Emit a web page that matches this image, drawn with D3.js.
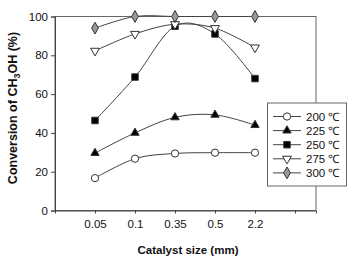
<!DOCTYPE html>
<html>
<head>
<meta charset="utf-8">
<script src="https://cdn.jsdelivr.net/npm/d3@7/dist/d3.min.js"></script>
<style>
  body { margin: 0; background: #fff; }
  text { font-family: "Liberation Sans", Arial, sans-serif; }
</style>
</head>
<body>
<svg id="chart"></svg>
<script>
// --- data ---
const sizes = ["0.05", "0.1", "0.35", "0.5", "2.2"];
const seriesNames = ["200 \u2103", "225 \u2103", "250 \u2103", "275 \u2103", "300 \u2103"];
const conv200 = [16.7, 26.7, 29.4, 29.8, 29.8];
const conv225 = [29.6, 40, 48, 49.3, 44];
const conv250 = [46.4, 68.8, 95, 91, 68];
const conv275 = [82.3, 91, 96, 94, 84];
const conv300 = [94, 100, 100, 100, 100];
const yTicks = [0, 20, 40, 60, 80, 100];

const allSeries = [conv200, conv225, conv250, conv275, conv300];
const markers = [
  {type: d3.symbolCircle, size: 42, fill: "#fff"},
  {type: d3.symbolTriangle, size: 30, fill: "#000"},
  {type: d3.symbolSquare, size: 42, fill: "#000"},
  {type: "down", size: 34, fill: "#fff"},
  {type: d3.symbolDiamond, size: 40, fill: "#999"}
];

const W = 351, H = 260;
const svg = d3.select("#chart").attr("width", W).attr("height", H);

const x = d3.scaleLinear().domain([0, 6.525]).range([55, 316]);
const y = d3.scaleLinear().domain([0, 100]).range([210.5, 16.5]);

// frame
svg.append("rect")
   .attr("x", 55).attr("y", 16.5)
   .attr("width", 261).attr("height", 194)
   .attr("fill", "none").attr("stroke", "#666").attr("stroke-width", 1);

// y axis
const yAxis = d3.axisLeft(y).tickValues(yTicks).tickSize(4).tickPadding(3);
const gy = svg.append("g").attr("transform", "translate(55,0)").call(yAxis);
gy.select(".domain").attr("stroke", "#444");
gy.selectAll(".tick line").attr("stroke", "#444");
gy.selectAll("text").attr("font-size", 11.5).attr("fill", "#111")
  .style("font-family", "Liberation Sans, Arial, sans-serif");

// x axis
const xAxis = d3.axisBottom(x).tickValues([1, 2, 3, 4, 5, 6])
  .tickFormat(d => sizes[d - 1] || "").tickSize(3).tickPadding(6);
const gx = svg.append("g").attr("transform", "translate(0,210.5)").call(xAxis);
gx.select(".domain").attr("stroke", "#444");
gx.selectAll(".tick line").attr("stroke", "#444");
gx.selectAll("text").attr("font-size", 11.5).attr("fill", "#111")
  .style("font-family", "Liberation Sans, Arial, sans-serif");

// axis titles
const yt = svg.append("text")
  .attr("transform", "translate(17,108) rotate(-90)")
  .attr("text-anchor", "middle")
  .attr("font-size", 12.5).attr("font-weight", "bold").attr("fill", "#111");
yt.append("tspan").text("Conversion of CH");
yt.append("tspan").attr("font-size", 9).attr("dy", 3).text("3");
yt.append("tspan").attr("dy", -3).text("OH (%)");

svg.append("text")
  .attr("x", 188).attr("y", 254)
  .attr("text-anchor", "middle")
  .attr("font-size", 11.5).attr("font-weight", "bold").attr("fill", "#111")
  .text("Catalyst size (mm)");

// marker helper
function drawMarker(g, m, cx, cy) {
  if (m.type === "down") {
    g.append("path")
      .attr("d", d3.symbol().type(d3.symbolTriangle).size(m.size)())
      .attr("transform", `translate(${cx},${cy}) rotate(180)`)
      .attr("fill", m.fill).attr("stroke", "#333").attr("stroke-width", 1);
  } else {
    g.append("path")
      .attr("d", d3.symbol().type(m.type).size(m.size)())
      .attr("transform", `translate(${cx},${cy})`)
      .attr("fill", m.fill).attr("stroke", "#333").attr("stroke-width", 1);
  }
}

// lines (smoothed like the original spreadsheet chart)
const line = d3.line()
  .x((d, i) => x(i + 1))
  .y(d => y(d))
  .curve(d3.curveCardinal.tension(0));

allSeries.forEach((vals, s) => {
  svg.append("path")
     .attr("d", line(vals))
     .attr("fill", "none")
     .attr("stroke", "#444")
     .attr("stroke-width", 1);
});

allSeries.forEach((vals, s) => {
  const g = svg.append("g");
  vals.forEach((v, i) => drawMarker(g, markers[s], x(i + 1), y(v)));
});

// legend
const lg = svg.append("g");
lg.append("rect")
  .attr("x", 267.5).attr("y", 103)
  .attr("width", 79).attr("height", 83)
  .attr("fill", "#fff").attr("stroke", "#666");
seriesNames.forEach((name, i) => {
  const ly = 116.5 + i * 14.1;
  lg.append("line").attr("x1", 273).attr("x2", 301).attr("y1", ly).attr("y2", ly)
    .attr("stroke", "#444");
  drawMarker(lg, markers[i], 287, ly);
  lg.append("text").attr("x", 306).attr("y", ly + 4)
    .attr("font-size", 11.5).attr("fill", "#111").text(name);
});
</script>
</body>
</html>
